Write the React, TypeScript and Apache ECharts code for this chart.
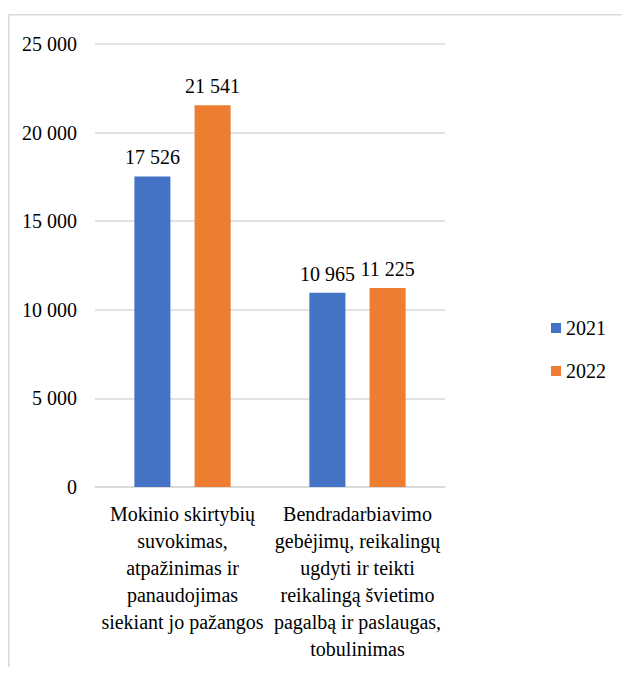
import React, { useEffect, useRef } from "react";
import * as echarts from "echarts";

const categories = [
  "Mokinio skirtybių\nsuvokimas,\natpažinimas ir\npanaudojimas\nsiekiant jo pažangos",
  "Bendradarbiavimo\ngebėjimų, reikalingų\nugdyti ir teikti\nreikalingą švietimo\npagalbą ir paslaugas,\ntobulinimas",
];
const seriesNames = ["2021", "2022"];
const values2021 = [17526, 10965];
const values2022 = [21541, 11225];
const yTicks = [0, 5000, 10000, 15000, 20000, 25000];

const fmt = (v: number) => String(v).replace(/\B(?=(\d{3})+(?!\d))/g, " ");
const FONT = "Liberation Serif";

export default function App() {
  const ref = useRef<HTMLDivElement>(null);
  useEffect(() => {
    const chart = echarts.init(ref.current!, null, { renderer: "svg" });
    const label = {
      show: true,
      position: "top",
      distance: 9,
      color: "#000",
      formatter: (p: any) => "{s|" + fmt(p.value) + "}",
      rich: { s: { fontFamily: FONT, fontSize: 20, color: "#000" } },
    };
    chart.setOption({
      animation: false,
      graphic: [
        {
          type: "polyline",
          shape: { points: [[0.75, 680], [0.75, 6.75], [640, 6.75]] },
          style: { fill: "none", stroke: "#d9d9d9", lineWidth: 1.5 },
          silent: true,
        },
      ],
      grid: { left: 87, right: 177, top: 36, bottom: 180, containLabel: false },
      legend: {
        orient: "vertical",
        left: 538,
        top: 305,
        itemWidth: 10,
        itemHeight: 10,
        itemGap: 23,
        icon: "rect",
        data: seriesNames,
        textStyle: { fontFamily: "Times New Roman", fontSize: 20, color: "#000" },
      },
      xAxis: {
        type: "category",
        data: categories,
        axisTick: { show: false },
        axisLine: { lineStyle: { color: "#d9d9d9", width: 1.5 } },
        axisLabel: {
          interval: 0,
          margin: 13,
          fontFamily: "Times New Roman",
          fontSize: 20,
          lineHeight: 27,
          color: "#000",
          align: "center",
        },
      },
      yAxis: {
        type: "value",
        min: yTicks[0],
        max: yTicks[yTicks.length - 1],
        interval: 5000,
        axisLine: { show: false },
        axisTick: { show: false },
        splitLine: { lineStyle: { color: "#d9d9d9", width: 1.5 } },
        axisLabel: {
          margin: 18,
          formatter: (v: number) => "{t|" + fmt(v) + "}",
          rich: { t: { fontFamily: FONT, fontSize: 20, color: "#000" } },
        },
      },
      series: [
        {
          name: seriesNames[0],
          type: "bar",
          data: values2021,
          itemStyle: { color: "#4472C4" },
          barGap: "67%",
          barCategoryGap: "45%",
          label,
        },
        {
          name: seriesNames[1],
          type: "bar",
          data: values2022,
          itemStyle: { color: "#ED7D31" },
          barGap: "67%",
          barCategoryGap: "45%",
          label,
        },
      ],
    });
    return () => chart.dispose();
  }, []);
  return <div ref={ref} style={{ width: 614, height: 659 }} />;
}
